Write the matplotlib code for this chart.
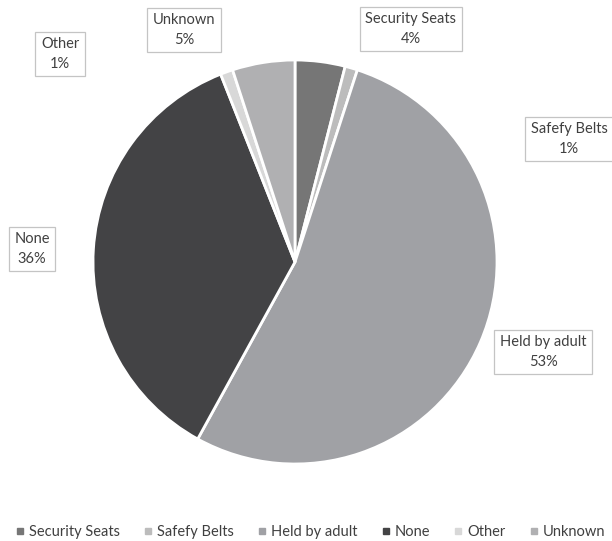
import matplotlib.pyplot as plt
from matplotlib.lines import Line2D

categories = ["Security Seats", "Safefy Belts", "Held by adult", "None", "Other", "Unknown"]
shares = [4, 1, 53, 36, 1, 5]
colors = ["#767676", "#bcbcbc", "#a0a1a5", "#434345", "#d8d8d8", "#b0b0b2"]

# label box centres in figure pixels (from top-left)
label_pos = [(411, 29), (569, 139), (543, 352), (32, 249), (60, 54), (184, 30)]

W, H = 612, 541
plt.rcParams['font.family'] = ['Lato', 'DejaVu Sans']
fig = plt.figure(figsize=(W / 100, H / 100), dpi=100)

cx, cy, r = 295, 262, 202
ax = fig.add_axes([(cx - r) / W, (H - cy - r) / H, 2 * r / W, 2 * r / H])
ax.pie(shares, colors=colors, startangle=90, counterclock=False,
       wedgeprops=dict(edgecolor="white", linewidth=2), radius=1.0)
ax.set_xlim(-1, 1)
ax.set_ylim(-1, 1)
ax.set_aspect("equal")
ax.axis("off")

for name, val, (px, py) in zip(categories, shares, label_pos):
    fig.text(px / W, 1 - py / H, f"{name}\n{val}%", ha="center", va="center",
             fontsize=10.5, color="#404040", linespacing=1.5,
             bbox=dict(boxstyle="square,pad=0.38", facecolor="white",
                       edgecolor="#c4c4c4", linewidth=0.9))

handles = [Line2D([0], [0], marker="s", linestyle="none", markersize=5,
                  markerfacecolor=c, markeredgecolor=c) for c in colors]
fig.legend(handles, categories, loc="center", bbox_to_anchor=(0.507, 1 - 532 / H),
           ncol=6, frameon=False, fontsize=10.5, handlelength=0.6,
           handletextpad=0.3, columnspacing=1.65, labelcolor="#404040")

fig.savefig("out.png", dpi=100, facecolor="white")
